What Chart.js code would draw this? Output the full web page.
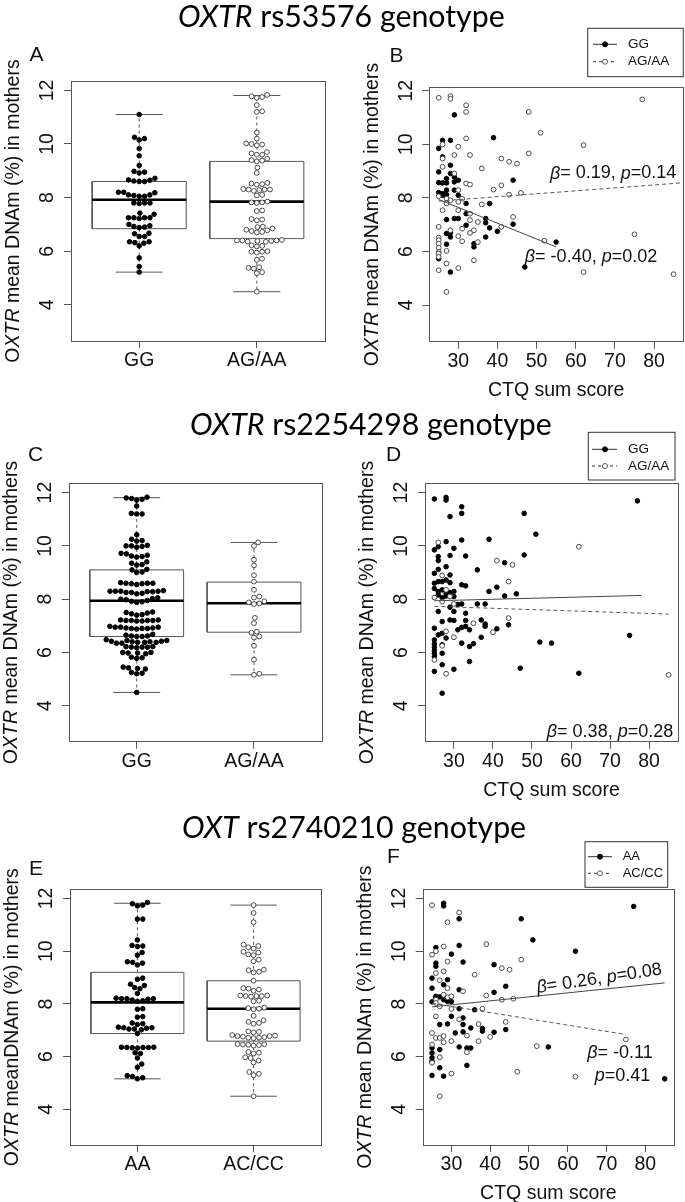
<!DOCTYPE html>
<html>
<head>
<meta charset="utf-8">
<script src="https://cdn.jsdelivr.net/npm/chart.js"></script>
<style>
  body { margin: 0; background: #fff; width: 685px; height: 1202px; position: relative; overflow: hidden; }
  canvas { position: absolute; }
  .ttl { position: absolute; z-index: 2; font-family: Lato, "Open Sans", sans-serif; font-size: 30.3px; line-height: 30.3px; white-space: nowrap; color: #000; }
</style>
</head>
<body>
<div class="ttl" style="left:178px;top:0px"><i>OXTR</i> rs53576 genotype</div>
<div class="ttl" style="left:190px;top:408px"><i>OXTR</i> rs2254298 genotype</div>
<div class="ttl" style="left:182px;top:811px"><i>OXT</i> rs2740210 genotype</div>
<script>
// ---- values ----
var dnamTicks = [4, 6, 8, 10, 12];
var ctqTicks = [30, 40, 50, 60, 70, 80];

// box stats: [lower whisker, Q1, median, Q3, upper whisker]
var aGroups = ['GG', 'AG/AA'];
var aBox1 = [5.22, 6.84, 7.92, 8.60, 11.10];
var aBox2 = [4.49, 6.47, 7.85, 9.35, 11.81];
var aDots1 = [11.1, 10.25, 10.2, 10.15, 9.83, 9.56, 9.2, 8.98, 8.95, 8.92, 8.72, 8.66, 8.65, 8.62, 8.6, 8.6,
  8.2, 8.2, 8.18, 8.1, 8.1, 8.08, 8.05, 8.05, 7.8, 7.8, 7.78, 7.8, 7.42, 7.38, 7.25, 7.25, 7.22, 7.25, 7.25,
  7.0, 6.95, 6.92, 6.9, 6.88, 6.67, 6.65, 6.55, 6.55, 6.35, 6.35, 6.32, 6.3, 6.2, 5.75, 5.43, 5.22];
var aDots2 = [11.83, 11.78, 11.75, 11.72, 11.45, 11.22, 11.2, 10.43, 10.2, 10.02, 10.0, 9.98, 9.95, 9.7, 9.65,
  9.6, 9.6, 9.45, 9.4, 9.38, 9.35, 9.12, 8.92, 8.55, 8.52, 8.5, 8.48, 8.32, 8.3, 8.3, 8.28, 8.25, 8.3, 8.1, 8.08,
  7.85, 7.82, 7.82, 7.8, 7.52, 7.5, 7.2, 7.18, 7.15, 6.92, 6.9, 6.85, 6.8, 6.78, 6.75, 6.72, 6.7, 6.42, 6.4, 6.4,
  6.38, 6.38, 6.36, 6.35, 6.4, 6.22, 6.2, 6.18, 6.0, 5.98, 5.98, 5.95, 5.72, 5.68, 5.4, 5.38, 5.35, 5.22, 5.18, 4.49];

var cGroups = ['GG', 'AG/AA'];
var cBox1 = [4.50, 6.60, 7.94, 9.10, 11.81];
var cBox2 = [5.16, 6.76, 7.85, 8.64, 10.13];
var cDots1 = [11.83, 11.8, 11.78, 11.75, 11.72, 11.5, 11.22, 11.2, 11.2, 10.42, 10.25, 10.2, 10.18, 10.02, 10.0,
  10.0, 9.98, 9.95, 9.72, 9.7, 9.65, 9.62, 9.6, 9.58, 9.4, 9.35, 9.3, 9.28, 9.12, 9.1, 9.02, 9.0, 8.62, 8.6, 8.6,
  8.58, 8.58, 8.55, 8.6, 8.32, 8.3, 8.3, 8.28, 8.28, 8.25, 8.22, 8.2, 8.3, 8.3, 8.25, 8.05, 8.02, 8.0, 7.98, 7.95,
  7.92, 7.9, 7.88, 7.52, 7.5, 7.45, 7.42, 7.4, 7.48, 7.22, 7.2, 7.2, 7.18, 7.22, 7.2, 7.18, 7.2, 6.98, 6.95, 6.95,
  6.92, 6.9, 6.92, 6.9, 6.88, 6.95, 6.9, 6.68, 6.65, 6.62, 6.6, 6.62, 6.6, 6.48, 6.45, 6.42, 6.4, 6.38, 6.38, 6.35,
  6.45, 6.4, 6.35, 6.42, 6.38, 6.22, 6.2, 6.2, 6.18, 6.22, 6.2, 6.0, 5.98, 5.98, 5.95, 6.0, 5.82, 5.8, 5.78, 5.45,
  5.42, 5.4, 5.38, 5.25, 5.22, 5.2, 4.5];
var cDots2 = [10.13, 10.0, 9.48, 9.27, 8.9, 8.66, 8.35, 8.1, 8.06, 7.92, 7.88, 7.82, 7.84, 7.3, 7.1, 6.78, 6.74,
  6.6, 6.56, 6.25, 5.73, 5.2, 5.16];

var eGroups = ['AA', 'AC/CC'];
var eBox1 = [5.16, 6.88, 8.06, 9.20, 11.82];
var eBox2 = [4.50, 6.59, 7.82, 8.88, 11.75];
var eDots1 = [11.85, 11.8, 11.75, 11.72, 11.22, 11.22, 10.43, 10.22, 10.2, 10.18, 9.95, 9.85, 9.6, 9.58, 9.55,
  9.48, 8.98, 8.94, 8.75, 8.7, 8.62, 8.58, 8.4, 8.22, 8.2, 8.2, 8.18, 8.15, 8.12, 8.1, 8.2, 7.82, 7.8, 7.52, 7.5,
  7.28, 7.25, 7.22, 7.12, 7.1, 7.08, 7.05, 7.05, 7.02, 7.1, 6.88, 6.36, 6.35, 6.35, 6.33, 6.35, 6.34, 6.36, 6.15,
  6.12, 5.95, 5.72, 5.6, 5.28, 5.25, 5.2, 5.16];
var eDots2 = [11.75, 11.45, 11.1, 10.25, 10.2, 10.15, 10.1, 9.98, 9.95, 9.88, 9.85, 9.68, 9.62, 9.3, 9.28, 9.22,
  9.2, 8.88, 8.6, 8.58, 8.55, 8.5, 8.32, 8.3, 8.3, 8.28, 8.3, 8.32, 8.12, 8.1, 7.86, 7.84, 7.82, 7.8, 7.55, 7.38,
  7.32, 7.28, 7.25, 6.96, 6.94, 6.92, 6.82, 6.8, 6.78, 6.76, 6.74, 6.72, 6.7, 6.72, 6.78, 6.48, 6.46, 6.45, 6.44,
  6.42, 6.47, 6.18, 6.15, 6.12, 5.98, 5.95, 5.85, 5.78, 5.42, 5.35, 5.3, 4.5];

// scatter points: [CTQ sum score, DNAm %]
var bPts1 = [[29, 11.1], [39, 10.25], [25, 9.85], [26, 10.15], [28, 10.15], [25, 8.97], [25, 8.57], [26, 8.56],
  [27, 8.72], [26, 9.53], [28, 9.22], [28, 8.91], [27, 8.56], [29, 8.6], [27, 8.29], [26, 8.16], [27, 8.12],
  [29, 8.29], [30, 8.1], [30, 8.66], [29, 8.78], [27, 7.19], [29, 7.23], [30, 7.23], [27, 6.67], [27, 6.27],
  [28, 6.54], [28, 6.7], [25, 5.73], [28, 5.23], [32, 7.79], [32, 7.41], [32, 6.98], [34, 6.29], [34, 6.17],
  [37, 7.23], [37, 7.07], [38, 6.88], [38, 7.79], [37, 6.54], [40, 6.75], [44, 8.66], [44, 7.02], [47, 5.42],
  [55, 6.35], [26, 8.1], [25, 8.2]];
var bPts2 = [[25, 11.74], [28, 11.8], [28, 11.7], [32, 11.46], [32, 11.21], [32, 10.22], [30, 9.91], [33, 9.6],
  [29, 9.6], [26, 10.0], [36, 9.1], [41, 9.47], [43, 9.35], [45, 9.28], [48, 9.66], [48, 11.21], [51, 10.43],
  [62, 9.97], [77, 11.68], [75, 6.64], [62, 5.23], [85, 5.15], [52, 6.4], [46, 8.19], [43, 8.12], [39, 8.31],
  [41, 8.47], [32, 8.54], [33, 8.5], [36, 7.76], [41, 6.92], [44, 7.29], [35, 7.1], [33, 7.41], [33, 7.17],
  [34, 6.79], [35, 6.35], [34, 5.67], [30, 5.38], [30, 6.57], [31, 6.85], [31, 6.38], [28, 6.79], [27, 6.02],
  [27, 5.55], [27, 4.49], [25, 5.3], [25, 6.92], [25, 6.52], [25, 6.42], [25, 6.29], [25, 6.14], [25, 5.98],
  [25, 5.92], [25, 5.8], [25, 8.06], [26, 7.54], [27, 7.97], [26, 9.16], [26, 9.47], [29, 8.91], [30, 8.29],
  [27, 7.79], [28, 7.91], [30, 7.85], [30, 7.54], [31, 7.97], [33, 6.69]];
var bFit1 = [25, 7.94, 55, 6.17];
var bFit2 = [25, 7.88, 87, 8.56];

var dPts1 = [[25, 11.76], [28, 11.82], [28, 11.72], [32, 11.47], [32, 11.22], [29, 11.1], [48, 11.22], [51, 10.44],
  [77, 11.69], [25, 9.85], [26, 9.97], [28, 10.16], [32, 10.22], [30, 9.91], [26, 9.6], [26, 9.45], [29, 9.64],
  [33, 9.62], [39, 10.25], [48, 9.66], [25, 8.97], [26, 9.12], [28, 9.22], [29, 8.91], [25, 8.6], [27, 8.66],
  [28, 8.72], [29, 8.62], [32, 8.54], [33, 8.5], [26, 8.29], [27, 8.35], [28, 8.22], [30, 8.29], [26, 8.16],
  [28, 8.12], [29, 8.25], [36, 9.1], [39, 8.29], [41, 8.45], [43, 9.37], [43, 8.12], [46, 8.2], [26, 7.54],
  [27, 7.16], [29, 7.22], [30, 7.2], [30, 7.54], [32, 7.82], [33, 7.47], [33, 7.2], [36, 7.82], [38, 7.82],
  [37, 7.22], [38, 7.07], [38, 6.98], [31, 6.85], [32, 6.94], [33, 6.98], [34, 6.85], [41, 6.89], [44, 7.04],
  [25, 6.91], [26, 6.66], [27, 6.72], [28, 6.54], [27, 6.29], [32, 6.35], [34, 6.22], [35, 6.33], [37, 6.57],
  [25, 6.47], [25, 6.32], [25, 6.2], [25, 6.07], [25, 5.95], [25, 5.85], [27, 5.97], [27, 5.54], [30, 5.37],
  [34, 5.66], [25, 5.29], [27, 4.47], [52, 6.39], [55, 6.35], [47, 5.41], [62, 5.22], [75, 6.64], [26, 8.66],
  [25, 8.4], [30, 8.1], [27, 8.05], [31, 7.8], [29, 7.7]];
var dPts2 = [[26, 10.13], [27, 8.89], [28, 8.35], [27, 7.91], [25, 8.06], [30, 7.82], [29, 8.1], [41, 9.45],
  [45, 9.29], [44, 8.66], [44, 7.29], [35, 7.1], [40, 6.76], [30, 6.57], [28, 6.79], [27, 6.25], [25, 5.72],
  [28, 5.2], [62, 9.97], [85, 5.16]];
var dFit1 = [25, 7.94, 78, 8.14];
var dFit2 = [25, 7.73, 85, 7.44];

var fPts1 = [[28, 11.82], [28, 11.72], [32, 11.23], [48, 11.23], [51, 10.43], [77, 11.7], [62, 10.0], [26, 10.14],
  [32, 10.22], [30, 9.89], [33, 9.59], [26, 9.55], [26, 9.43], [41, 9.49], [25, 8.98], [29, 8.92], [28, 8.73],
  [25, 8.6], [32, 8.54], [26, 8.29], [27, 8.27], [28, 8.16], [29, 8.1], [30, 8.09], [25, 8.08], [26, 8.2],
  [41, 8.44], [44, 8.67], [32, 7.82], [36, 7.78], [30, 7.53], [33, 7.47], [27, 7.22], [29, 7.24], [33, 7.22],
  [35, 7.09], [38, 7.07], [38, 6.97], [31, 6.9], [33, 6.94], [41, 6.93], [44, 7.03], [32, 6.37], [34, 6.33],
  [35, 6.33], [55, 6.37], [25, 6.33], [25, 6.14], [25, 5.96], [25, 5.83], [27, 5.58], [34, 5.67], [25, 5.29],
  [28, 5.26], [85, 5.16], [27, 6.27]];
var fPts2 = [[25, 11.75], [32, 11.47], [29, 11.1], [26, 10.0], [25, 9.87], [28, 10.18], [39, 10.27], [29, 9.61],
  [36, 9.11], [48, 9.68], [43, 9.36], [45, 9.3], [26, 9.17], [28, 9.24], [27, 8.9], [29, 8.6], [33, 8.48],
  [39, 8.32], [43, 8.16], [46, 8.2], [26, 8.16], [28, 8.35], [27, 7.91], [29, 8.25], [30, 8.29], [26, 8.04],
  [26, 7.53], [30, 7.81], [38, 7.82], [32, 7.41], [37, 7.24], [44, 7.32], [25, 6.9], [26, 6.71], [27, 6.71],
  [28, 6.78], [28, 6.55], [30, 6.59], [34, 6.8], [37, 6.59], [40, 6.75], [25, 6.46], [25, 5.77], [27, 5.98],
  [34, 6.17], [30, 5.36], [27, 4.5], [52, 6.4], [47, 5.43], [62, 5.24], [75, 6.65]];
var fFit1 = [25, 7.89, 85, 8.80];
var fFit2 = [25, 8.03, 75, 6.84];

// ---- layout (page px) ----
var LA = { cv: [0, 30, 340, 370], box: [71, 81, 325, 341], x: [0.42, 2.58], y: [2.65, 12.35], xTicks: [1, 2] };
var LB = { cv: [340, 20, 345, 385], box: [429.3, 87.3, 683, 341.7], x: [22.6, 87.4], y: [2.63, 12.13], xTicks: ctqTicks };
var LC = { cv: [0, 435, 340, 370], box: [68.7, 483.3, 322, 741.7], x: [0.42, 2.58], y: [2.65, 12.35], xTicks: [1, 2] };
var LD = { cv: [340, 428, 345, 377], box: [425, 483.3, 678, 741.7], x: [22.6, 87.4], y: [2.65, 12.35], xTicks: ctqTicks };
var LE = { cv: [0, 840, 340, 362], box: [70, 889.3, 321, 1145], x: [0.42, 2.58], y: [2.65, 12.35], xTicks: [1, 2] };
var LF = { cv: [340, 835, 345, 367], box: [422.7, 889.3, 674, 1145], x: [22.6, 87.4], y: [2.65, 12.35], xTicks: ctqTicks };

var SANS = '"Liberation Sans", Arial, sans-serif';
var INK = '#111';

function fnt(size, it) { return (it ? 'italic ' : '') + size + 'px ' + SANS; }

function drawRich(ctx, parts, x, y, align, size) {
  var w = 0;
  parts.forEach(function (p) { ctx.font = fnt(size, p[1]); w += ctx.measureText(p[0]).width; });
  var sx = align === 'center' ? x - w / 2 : (align === 'right' ? x - w : x);
  ctx.textAlign = 'left';
  ctx.textBaseline = 'middle';
  parts.forEach(function (p) {
    ctx.font = fnt(size, p[1]);
    ctx.fillText(p[0], sx, y);
    sx += ctx.measureText(p[0]).width;
  });
}

function beta(b, p) { return [['β', 1], ['= ' + b + ', ', 0], ['p', 1], ['=' + p, 0]]; }

var decoPlugin = {
  id: 'deco',
  afterDraw: function (chart, args, o) {
    var ctx = chart.ctx, a = chart.chartArea, xs = chart.scales.x, ys = chart.scales.y;
    var ox = o.origin[0], oy = o.origin[1];
    ctx.save();
    ctx.fillStyle = INK;
    ctx.strokeStyle = '#555';
    ctx.lineWidth = 1;
    ctx.strokeRect(Math.round(a.left) + 0.5, Math.round(a.top) + 0.5,
      Math.round(a.right - a.left), Math.round(a.bottom - a.top));

    // y tick labels, rotated like base R
    ctx.font = fnt(19.5);
    ctx.textAlign = 'center';
    ctx.textBaseline = 'middle';
    dnamTicks.forEach(function (v) {
      ctx.save();
      ctx.translate(a.left - 23, ys.getPixelForValue(v));
      ctx.rotate(-Math.PI / 2);
      ctx.fillText(String(v), 0, 0);
      ctx.restore();
    });

    ctx.save();
    ctx.translate(a.left - 57, (a.top + a.bottom) / 2);
    ctx.rotate(-Math.PI / 2);
    drawRich(ctx, o.yTitle, 0, 0, 'center', 19.5);
    ctx.restore();

    if (o.xTitle) {
      ctx.font = fnt(19.5);
      ctx.textAlign = 'center';
      ctx.fillText(o.xTitle, (a.left + a.right) / 2, a.bottom + 49);
    }

    ctx.font = fnt(21);
    ctx.textAlign = 'center';
    ctx.fillText(o.letter[0], o.letter[1] - ox, o.letter[2] - oy);

    (o.notes || []).forEach(function (n) {
      ctx.save();
      ctx.translate(xs.getPixelForValue(n.x), ys.getPixelForValue(n.y));
      if (n.rot) ctx.rotate(n.rot * Math.PI / 180);
      drawRich(ctx, n.parts, 0, 0, n.align || 'left', 18);
      ctx.restore();
    });

    var lg = o.legend;
    if (lg) {
      ctx.strokeStyle = '#333';
      ctx.strokeRect(lg.box[0] - ox, lg.box[1] - oy, lg.box[2] - lg.box[0], lg.box[3] - lg.box[1]);
      lg.rows.forEach(function (r) {
        var y = r[0] - oy;
        ctx.strokeStyle = '#333';
        ctx.setLineDash(r[2] ? [] : [3, 3]);
        ctx.beginPath();
        ctx.moveTo(lg.line[0] - ox, y);
        ctx.lineTo(lg.line[1] - ox, y);
        ctx.stroke();
        ctx.setLineDash([]);
        ctx.beginPath();
        ctx.arc(lg.dot - ox, y, 2.5, 0, Math.PI * 2);
        ctx.fillStyle = r[2] ? '#000' : '#fff';
        ctx.fill();
        ctx.strokeStyle = r[2] ? '#000' : '#555';
        ctx.stroke();
        ctx.fillStyle = INK;
        ctx.font = fnt(lg.size);
        ctx.textAlign = 'left';
        ctx.fillText(r[1], lg.textX - ox, y);
      });
    }
    ctx.restore();
  }
};

function swarm(vals, yPx, d) {
  var idx = vals.map(function (v, i) { return i; }).sort(function (a, b) { return vals[a] - vals[b]; });
  var placed = [], off = [];
  idx.forEach(function (i) {
    var y = vals[i] * yPx, cands = [0], c;
    placed.forEach(function (p) {
      var dy = Math.abs(p.y - y);
      if (dy < d) {
        var dx = Math.sqrt(d * d - dy * dy);
        cands.push(p.x + dx, p.x - dx);
      }
    });
    cands.sort(function (a, b) { return Math.abs(a) - Math.abs(b); });
    for (var k = 0; k < cands.length; k++) {
      c = cands[k];
      var free = placed.every(function (p) {
        var dx = p.x - c, dy = p.y - y;
        return dx * dx + dy * dy > d * d - 0.01;
      });
      if (free) break;
    }
    placed.push({ x: c, y: y });
    off[i] = c;
  });
  return off;
}

function swarmPts(vals, cx, L) {
  var xPx = (L.box[2] - L.box[0]) / (L.x[1] - L.x[0]);
  var yPx = (L.box[3] - L.box[1]) / (L.y[1] - L.y[0]);
  var off = swarm(vals, yPx, 5.4);
  return vals.map(function (v, i) { return { x: cx + off[i] / xPx, y: v }; });
}

function toXY(pts) { return pts.map(function (p) { return { x: p[0], y: p[1] }; }); }
function fitPts(f) { return [{ x: f[0], y: f[1] }, { x: f[2], y: f[3] }]; }

function dotSet(pts, filled) {
  return {
    data: pts, pointRadius: filled ? 2.3 : 2.4, pointBorderWidth: 1,
    pointBackgroundColor: filled ? '#000' : '#fff', pointBorderColor: filled ? '#000' : '#4a4a4a', clip: false
  };
}

function lineSet(pts, width, dash, color) {
  return {
    data: pts, showLine: true, pointRadius: 0, borderColor: color || '#555', borderWidth: width,
    borderDash: dash || [], clip: false
  };
}

function boxSets(c, s) {
  return [
    lineSet([{ x: c - 0.4, y: s[2] }, { x: c + 0.4, y: s[2] }], 2.6, null, '#000'),
    lineSet([{ x: c - 0.4, y: s[1] }, { x: c + 0.4, y: s[1] }, { x: c + 0.4, y: s[3] },
      { x: c - 0.4, y: s[3] }, { x: c - 0.4, y: s[1] }], 1),
    lineSet([{ x: c, y: s[3] }, { x: c, y: s[4] }], 1, [3, 3]),
    lineSet([{ x: c, y: s[1] }, { x: c, y: s[0] }], 1, [3, 3]),
    lineSet([{ x: c - 0.2, y: s[4] }, { x: c + 0.2, y: s[4] }], 1),
    lineSet([{ x: c - 0.2, y: s[0] }, { x: c + 0.2, y: s[0] }], 1)
  ];
}

function axisOpts(min, max, ticks, fitSize, isX, labelFn) {
  return {
    type: 'linear', min: min, max: max,
    afterBuildTicks: function (s) { s.ticks = ticks.map(function (v) { return { value: v }; }); },
    afterFit: function (s) { if (isX) { s.height = fitSize; } else { s.width = fitSize; } },
    grid: { drawOnChartArea: false, drawTicks: true, tickLength: 7, color: '#555', lineWidth: 1 },
    border: { display: false },
    ticks: {
      display: isX, padding: 1, maxRotation: 0, minRotation: 0, autoSkip: false, color: INK,
      font: { family: SANS, size: 19.5 },
      callback: labelFn || function (v) { return v; }
    }
  };
}

function makeChart(L, datasets, deco, xLabelFn) {
  var cv = document.createElement('canvas');
  cv.width = L.cv[2];
  cv.height = L.cv[3];
  cv.style.left = L.cv[0] + 'px';
  cv.style.top = L.cv[1] + 'px';
  document.body.appendChild(cv);
  deco.origin = [L.cv[0], L.cv[1]];
  return new Chart(cv, {
    type: 'scatter',
    data: { datasets: datasets },
    options: {
      responsive: false, animation: false, events: [],
      layout: {
        autoPadding: false,
        padding: { left: 0, bottom: 0, top: L.box[1] - L.cv[1], right: L.cv[0] + L.cv[2] - L.box[2] }
      },
      scales: {
        x: axisOpts(L.x[0], L.x[1], L.xTicks, L.cv[1] + L.cv[3] - L.box[3], true, xLabelFn),
        y: axisOpts(L.y[0], L.y[1], dnamTicks, L.box[0] - L.cv[0], false)
      },
      plugins: { legend: { display: false }, tooltip: { enabled: false }, deco: deco }
    },
    plugins: [decoPlugin]
  });
}

function boxPanel(L, groups, s1, s2, v1, v2, deco) {
  var sets = [dotSet(swarmPts(v1, 1, L), true), dotSet(swarmPts(v2, 2, L), false)]
    .concat(boxSets(1, s1), boxSets(2, s2));
  makeChart(L, sets, deco, function (v) { return groups[v - 1]; });
}

function scatterPanel(L, p1, p2, f1, f2, deco) {
  var sets = [
    lineSet(fitPts(f1), 1, [], '#444'),
    lineSet(fitPts(f2), 1, [4, 3], '#555'),
    dotSet(toXY(p2), false),
    dotSet(toXY(p1), true)
  ];
  makeChart(L, sets, deco);
}

var yLab = [['O', 0], ['XTR', 1], [' mean DNAm (%) in mothers', 0]];
var yLabE = [['O', 0], ['XTR', 1], [' meanDNAm (%) in mothers', 0]];

boxPanel(LA, aGroups, aBox1, aBox2, aDots1, aDots2, { yTitle: yLab, letter: ['A', 36.5, 55] });

scatterPanel(LB, bPts1, bPts2, bFit1, bFit2, {
  yTitle: yLab, xTitle: 'CTQ sum score', letter: ['B', 396.5, 56.5],
  legend: { box: [587.7, 28.3, 683.3, 76.7], line: [593, 617], dot: 605, textX: 628, size: 13.5,
    rows: [[44.3, aGroups[0], true], [61.7, aGroups[1], false]] },
  notes: [{ parts: beta('0.19', '0.14'), x: 53.4, y: 8.91 }, { parts: beta('-0.40', '0.02'), x: 47.0, y: 5.79 }]
});

boxPanel(LC, cGroups, cBox1, cBox2, cDots1, cDots2, { yTitle: yLab, letter: ['C', 35.5, 455] });

scatterPanel(LD, dPts1, dPts2, dFit1, dFit2, {
  yTitle: yLab, xTitle: 'CTQ sum score', letter: ['D', 393.5, 455.5],
  legend: { box: [588.3, 432.3, 675, 480], line: [592, 617], dot: 605, textX: 628, size: 13.5,
    rows: [[449.3, cGroups[0], true], [466, cGroups[1], false]] },
  notes: [{ parts: beta('0.38', '0.28'), x: 53.8, y: 3.03 }]
});

boxPanel(LE, eGroups, eBox1, eBox2, eDots1, eDots2, { yTitle: yLabE, letter: ['E', 36, 869.5] });

scatterPanel(LF, fPts1, fPts2, fFit1, fFit2, {
  yTitle: yLab, xTitle: 'CTQ sum score', letter: ['F', 393.5, 857.5],
  legend: { box: [585, 841.7, 667.7, 887.3], line: [588, 612], dot: 600, textX: 622.7, size: 13,
    rows: [[856.7, eGroups[0], true], [873.3, eGroups[1], false]] },
  notes: [
    { parts: beta('0.26', '0.08'), x: 52.0, y: 8.6, rot: -8.5 },
    { parts: [['β', 1], ['= -0.11', 0]], x: 81.9, y: 6.15, align: 'right' },
    { parts: [['p', 1], ['=0.41', 0]], x: 81.3, y: 5.26, align: 'right' }
  ]
});
</script>
</body>
</html>
